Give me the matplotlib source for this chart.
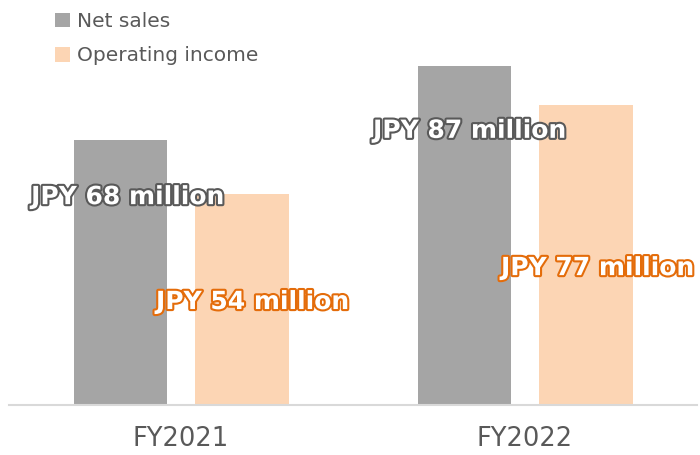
import matplotlib.pyplot as plt
import matplotlib.patheffects as pe
import numpy as np

plt.rcParams['font.family'] = ['DejaVu Sans']

years = ['FY2021', 'FY2022']
net_sales = [68, 87]
op_income = [54, 77]
net_labels = ['JPY 68 million', 'JPY 87 million']
op_labels = ['JPY 54 million', 'JPY 77 million']

fig = plt.figure(figsize=(7, 4.55), dpi=100)
ax = fig.add_axes([9/700, 1-405/455, 688/700, 390/455])

x = np.arange(len(years))
w = 0.273
off = 0.176
b1 = ax.bar(x-off, net_sales, w, color='#a5a5a5', label='Net sales')
b2 = ax.bar(x+off, op_income, w, color='#fcd5b4', label='Operating income')

ax.set_xlim(-0.5, 1.5)
ax.set_ylim(0, 100)
ax.set_yticks([])
ax.set_xticks(x)
ax.set_xticklabels(years, fontsize=18.5, color='#595959')
ax.tick_params(axis='x', length=0, pad=15)
for s in ['top', 'right', 'left']:
    ax.spines[s].set_visible(False)
ax.spines['bottom'].set_color('#d9d9d9')
ax.spines['bottom'].set_linewidth(1.5)

# outlined value labels, offsets from each bar's center / top
net_dx = [0.022, 0.016]
net_dy = [-14.7, -16.7]
op_dx = [0.033, 0.036]
op_dy = [-27.6, -41.9]
for i in range(len(years)):
    ax.text(x[i]-off+net_dx[i], net_sales[i]+net_dy[i], net_labels[i], ha='center', va='center',
            fontsize=18, fontweight='bold', color='white',
            path_effects=[pe.withStroke(linewidth=3, foreground='#595959')])
    ax.text(x[i]+off+op_dx[i], op_income[i]+op_dy[i], op_labels[i], ha='center', va='center',
            fontsize=18, fontweight='bold', color='white',
            path_effects=[pe.withStroke(linewidth=3, foreground='#e46c0a')])

fig.legend(handles=[b1, b2], loc='upper left', bbox_to_anchor=(37/700, 1+6/455), frameon=False,
           fontsize=14.5, labelcolor='#595959', handlelength=0.75, handleheight=0.75,
           handletextpad=0.35, labelspacing=0.75)

fig.savefig('out.png', dpi=100)
